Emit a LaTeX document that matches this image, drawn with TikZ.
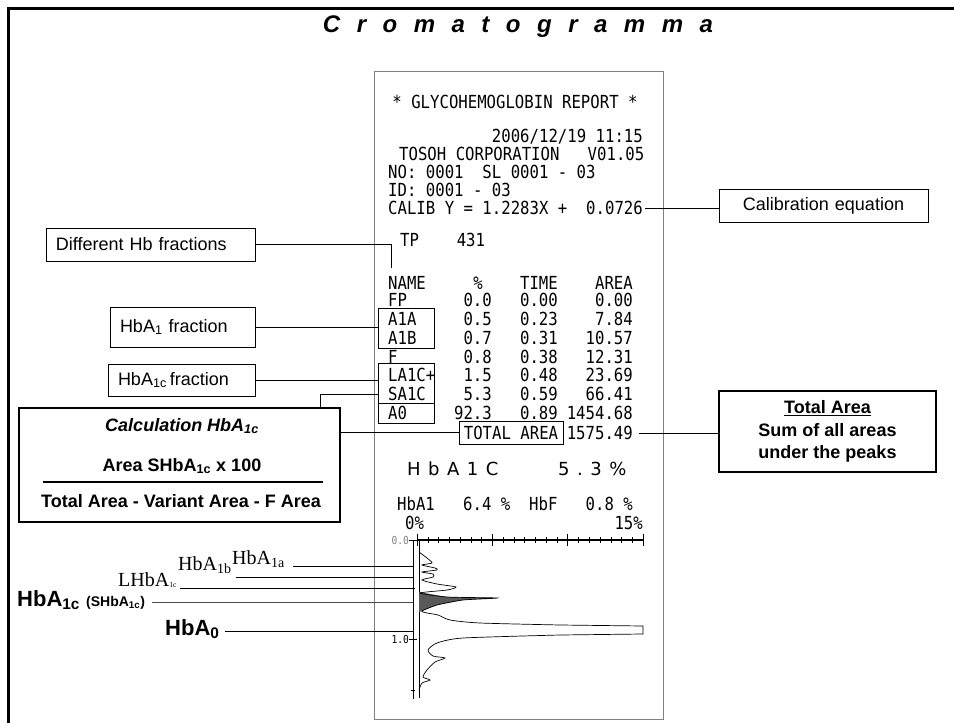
\documentclass[tikz,border=0pt]{standalone}
\usepackage{fontspec}
\setmainfont{Liberation Sans}
\newfontfamily\rcptfont[FakeStretch=0.87]{DejaVu Sans Mono}
\newfontfamily\serfont{Liberation Serif}
\newfontfamily\widefont{DejaVu Sans}
\usetikzlibrary{positioning,calc}
\newcommand\tgap{\hspace{16.5pt}}
\newcommand\wgap{\hspace{7.5pt}}

\begin{document}
\begin{tikzpicture}[x=1pt,y=-1pt,
  lblbox/.style={draw,line width=0.8pt,font=\fontsize{18}{21}\selectfont,inner xsep=10pt,inner ysep=0pt,align=left},
  boldbox/.style={draw,line width=2pt,font=\bfseries\fontsize{18}{22.5}\selectfont,align=center,inner sep=0pt},
  rowbox/.style={draw,line width=0.8pt,inner sep=0pt},
  rc/.style={font=\rcptfont\fontsize{18}{20}\selectfont,inner sep=0pt},
  pklbl/.style={font=\serfont\fontsize{20}{24}\selectfont,inner sep=0pt},
  pkbold/.style={font=\bfseries\fontsize{22}{26}\selectfont,inner sep=0pt},
  conn/.style={line width=0.8pt}]
\useasboundingbox (0,0) rectangle (954,723);
% frame and title
\draw[line width=3pt] (8,723) -- (8,8) -- (954,8);
\node[font=\bfseries\itshape\fontsize{24}{28}\selectfont] (title) at (518,27)
  {C\tgap r\tgap o\tgap m\tgap a\tgap t\tgap o\tgap g\tgap r\tgap a\tgap m\tgap m\tgap a};

% printed report
\node[draw=gray,line width=1pt,minimum width=289pt,minimum height=648pt,inner sep=0pt] (receipt) at (518.5,395) {};
\node[rc] (rhead) at (515,102) {*~GLYCOHEMOGLOBIN~REPORT~*};
\node[rc,anchor=east] (rdate) at (643,137) {2006/12/19~11:15};
\node[rc,anchor=west] (rcorp) at (399,154) {TOSOH~CORPORATION~~~V01.05};
\node[rc,anchor=west] (rno) at (388,172) {NO:~0001~~SL~0001~-~03};
\node[rc,anchor=west] (rid) at (388,190) {ID:~0001~-~03};
\node[rc,anchor=west] (rcalib) at (388,208) {CALIB~Y~=~1.2283X~+};
\node[rc,anchor=east] (calibval) at (643,208) {0.0726};
\node[rc,anchor=west] (rtp) at (400,240) {TP~~~~431};

% table
\node[rc,anchor=west] (hname) at (388,283) {NAME};
\node[rc] (hpc) at (478,283) {\%};
\node[rc,anchor=east] (htime) at (558,283) {TIME};
\node[rc,anchor=east] (harea) at (633,283) {AREA};
\foreach \nm/\pc/\tm/\ar [count=\r] in {FP/0.0/0.00/0.00, A1A/0.5/0.23/7.84,
    A1B/0.7/0.31/10.57, F/0.8/0.38/12.31, LA1C+/1.5/0.48/23.69,
    SA1C/5.3/0.59/66.41, A0/92.3/0.89/1454.68}{
  \node[rc,anchor=west] (nm\r) at (388,{300+18.83*(\r-1)}) {\nm};
  \node[rc,anchor=east] at (492,{300+18.83*(\r-1)}) {\pc};
  \node[rc,anchor=east] at (558,{300+18.83*(\r-1)}) {\tm};
  \node[rc,anchor=east] at (633,{300+18.83*(\r-1)}) {\ar};
}
\node[rowbox,minimum width=56pt,minimum height=40pt] (a1box) at (406,328) {};
\node[rowbox,minimum width=56pt,minimum height=40pt] (lbox) at (406,383) {};
\node[rowbox,minimum width=56pt,minimum height=20pt] (a0box) at (406,413) {};
\node[rowbox,rc,draw,minimum width=104pt,minimum height=23pt] (tabox) at (511,432.5) {TOTAL~AREA};
\node[rc,anchor=east] (total) at (633,433) {1575.49};

\node[font=\widefont\fontsize{18}{20}\selectfont,anchor=west,inner sep=0pt] (hbres) at (407,469) {H\wgap b\wgap A\wgap 1\wgap C};
\node[font=\widefont\fontsize{18}{20}\selectfont,anchor=west,inner sep=0pt] (hbval) at (558,469) {5\wgap .\wgap 3\wgap \%};
\node[rc,anchor=west] (rsum) at (397,504) {HbA1~~~6.4~\%~~HbF~~~0.8~\%};
\node[rc,anchor=west] (xmin) at (405,523) {0\%};
\node[rc,anchor=east] (xmax) at (643,523) {15\%};

% chromatogram axes
\draw[line width=1.2pt] (417,540) -- (643,540);
\foreach \i in {0,...,21}
  \draw (417+10.762*\i,537) -- (417+10.762*\i,543);
\foreach \i in {0,7,14,21}
  \draw (417+10.762*\i,534) -- (417+10.762*\i,546);
\draw[line width=1pt] (413,540) -- (413,699);
\draw (419,540) -- (419,698);
\draw (409,540) -- (417,540);
\draw (409,639) -- (417,639);
\draw (411,588) -- (415,588);
\draw (411,690) -- (415,690);
\node[rc,font=\rcptfont\fontsize{11}{12}\selectfont,text=gray,anchor=east] (y0) at (409,540) {0.0};
\node[rc,font=\rcptfont\fontsize{11}{12}\selectfont,anchor=east] (y1) at (409,639) {1.0};

% trace
\fill[black!65] (419,592) -- (447,597) -- (497,598) -- (463,600) -- (437,605) -- (422,611) -- (419,612) -- cycle;
\draw[line width=0.7pt] plot[smooth,tension=0.4] coordinates {(419,552) (427,558) (432,563) (422,565)
  (435,568) (437,570) (422,572) (433,574) (433,577) (422,580) (437,584) (456,587) (447,590)
  (420,593) (447,597) (497,598) (463,600) (437,605) (422,611) (427,613) (438,615) (450,620)
  (480,623) (560,625)} -- (643,626) -- (643,634) -- plot[smooth,tension=0.4] coordinates {(560,635)
  (463,638) (437,643) (428,650) (433,656) (445,658) (435,662) (427,670) (423,677) (430,680)
  (422,683) (419,690)};

% callout boxes
\node[lblbox,text width=189pt,minimum height=33pt] (diff) at (150.5,244.5) {Different Hb fractions};
\node[lblbox,text width=125pt,minimum height=40pt] (hba1) at (182.5,327) {HbA\textsubscript{1} fraction};
\node[lblbox,text width=127pt,minimum height=32pt] (hba1c) at (181.5,380) {HbA\textsubscript{1c}\,fraction};
\node[lblbox,text width=189pt,align=center,minimum height=33pt] (calib) at (823.5,205.5) {Calibration equation};
\node[boldbox,minimum width=217pt,minimum height=81pt] (sum) at (827.5,431.5)
  {\underline{Total Area}\\Sum of all areas\\under the peaks};
\node[boldbox,line width=2.5pt,minimum width=321pt,minimum height=114pt] (calc) at (179.5,465) {};
\node[font=\bfseries\itshape\fontsize{18}{21}\selectfont] (calct) at (182,426) {Calculation HbA\textsubscript{1c}};
\node[font=\bfseries\fontsize{18}{21}\selectfont] (calcn) at (182,466) {Area SHbA\textsubscript{1c} x 100};
\node[font=\bfseries\fontsize{18}{21}\selectfont] (calcd) at (181,501) {Total Area - Variant Area - F Area};
\draw[line width=1.5pt] (43,482) -- (323,482);

% connectors
\coordinate (nametop) at (391,268);
\draw[conn] (diff.east) -| (nametop);
\draw[conn] (hba1.east) -- (hba1.east -| a1box.west);
\draw[conn] (hba1c.east) -- (hba1c.east -| lbox.west);
\draw[conn] ([xshift=-21pt]calc.north east) |- (nm6.west -| lbox.west);
\draw[conn] (calc.east |- tabox.west) -- (tabox.west);
\draw[conn] ([xshift=2pt]calibval.east) -- (calibval.east -| calib.west);
\draw[conn] ([xshift=6pt]total.east) -- (total.east -| sum.west);

% peak labels
\coordinate (p1a) at (413,566);
\coordinate (p1b) at (413,577);
\coordinate (pl1c) at (413,588);
\coordinate (ps1c) at (413,602);
\coordinate (pa0) at (413,631);
\node[pklbl,anchor=base west] (l1a) at (232,564) {HbA\textsubscript{1a}};
\node[pklbl,anchor=base west] (l1b) at (178,570) {HbA\textsubscript{1b}};
\node[pklbl,anchor=base west] (ll1c) at (118,586) {LHbA{\fontsize{11}{12}\selectfont\textsubscript{1c}}};
\node[pkbold,anchor=base west] (ls1c) at (17,606) {HbA\textsubscript{1c} {\fontsize{14}{16}\selectfont(SHbA\textsubscript{1c})}};
\node[pkbold,anchor=base west] (la0) at (165,635) {HbA\textsubscript{0}};
\draw[conn] ([xshift=8pt]l1a.east |- p1a) -- (p1a);
\draw[conn] ([xshift=4pt]l1b.east |- p1b) -- (p1b);
\draw[conn] ([xshift=3pt]ll1c.east |- pl1c) -- (pl1c);
\draw[conn,gray!60!black] ([xshift=7pt]ls1c.east |- ps1c) -- (ps1c);
\draw[conn] ([xshift=5pt]la0.east |- pa0) -- (pa0);
\end{tikzpicture}
\end{document}
